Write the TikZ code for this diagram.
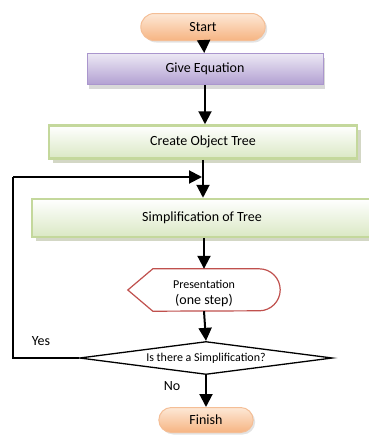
\documentclass[tikz,border=0pt]{standalone}
\usepackage{fontspec}
\setmainfont{Carlito}
\usetikzlibrary{calc, positioning}
\usetikzlibrary{arrows.meta}
\usetikzlibrary{shapes.misc, shapes.geometric, shadows}

\definecolor{lavlight}{RGB}{236,232,244}
\definecolor{lavdark}{RGB}{178,160,210}
\definecolor{lavedge}{RGB}{170,150,205}
\definecolor{grnedge}{RGB}{196,216,156}
\definecolor{grnlow}{RGB}{218,232,196}
\definecolor{grnshade}{RGB}{168,176,140}
\definecolor{orgtop}{RGB}{253,232,214}
\definecolor{orglow}{RGB}{246,180,130}
\definecolor{orgedge}{RGB}{244,190,150}
\definecolor{presedge}{RGB}{192,80,77}

\tikzset{
  flow/.style={line width=2pt, -{Triangle[width=13pt,length=13pt]}},
  txt/.style={font=\fontsize{14}{16}\selectfont},
  term/.style={rounded rectangle, draw=orgedge, line width=1pt, top color=orgtop,
    bottom color=orglow, drop shadow={shadow xshift=2pt, shadow yshift=-2pt,
    fill=black!22}, txt},
  purplebox/.style={rectangle, draw=lavedge, line width=1pt, top color=lavlight,
    bottom color=lavdark,
    drop shadow={shadow xshift=2pt, shadow yshift=-4pt, fill=black!30}, txt},
  greenbox/.style={rectangle, draw=grnedge, line width=2.5pt,
    top color=white, bottom color=grnlow,
    drop shadow={shadow xshift=4pt, shadow yshift=-4pt, fill=grnshade}, txt}
}

\begin{document}
\begin{tikzpicture}[x=1pt,y=-1pt]
\useasboundingbox (0,0) rectangle (368,439);

% Process blocks
\node[term, minimum width=131, minimum height=27] (start) at (203,27) {Start};
\node[purplebox, minimum width=236, minimum height=31] (give) at (205,69) {Give Equation};
\node[greenbox, minimum width=308, minimum height=33] (create) at (203,142) {Create Object Tree};
\node[greenbox, minimum width=340, minimum height=38] (simp) at (202,218) {Simplification of Tree};

% Presentation (display shape)
\node[minimum width=152, minimum height=42, inner sep=0] (pres) at (204,290) {};
\draw[presedge, line width=1.2pt, fill=white]
    (pres.west) -- ($(pres.north west)+(25,0)$) -- ($(pres.north east)+(-21,0)$)
    arc[start angle=-90, end angle=90, radius=21]
    -- ($(pres.south west)+(25,0)$) -- cycle;
\node[font=\fontsize{12}{14}\selectfont] at ($(pres.center)+(0,-6)$) {Presentation};
\node[txt] at ($(pres.center)+(0,11)$) {(one step)};

% Decision
\node[diamond, draw, line width=1.3pt, fill=white, minimum width=253, minimum height=33,
    inner sep=0, aspect=7.6, font=\fontsize{12}{14}\selectfont] (dec) at (206,358)
    {Is there a Simplification?};
\node[term, minimum width=101, minimum height=25] (finish) at (206,420) {Finish};

% Connectors
\coordinate (yesA) at (13,358);
\coordinate (yesB) at (13,177);
\coordinate (join) at (203,177);
\draw[flow] (start) -- (give);
\draw[flow] (give) -- (give.south |- create.north);
\draw[flow] (create.south -| join) -- (simp.north -| join);
\draw[flow] (simp.south -| pres) -- (pres.north);
\draw[flow] (pres.south) -- (dec.north);
\draw[flow] (dec.south) -- (finish.north);
\draw[line width=2pt] (dec.west) -- (yesA) -- (yesB);
\draw[flow, shorten >=1pt] (yesB) -- (join);

% Labels
\node[txt] at (41,341) {Yes};
\node[txt] at (172,386) {No};
\end{tikzpicture}
\end{document}
